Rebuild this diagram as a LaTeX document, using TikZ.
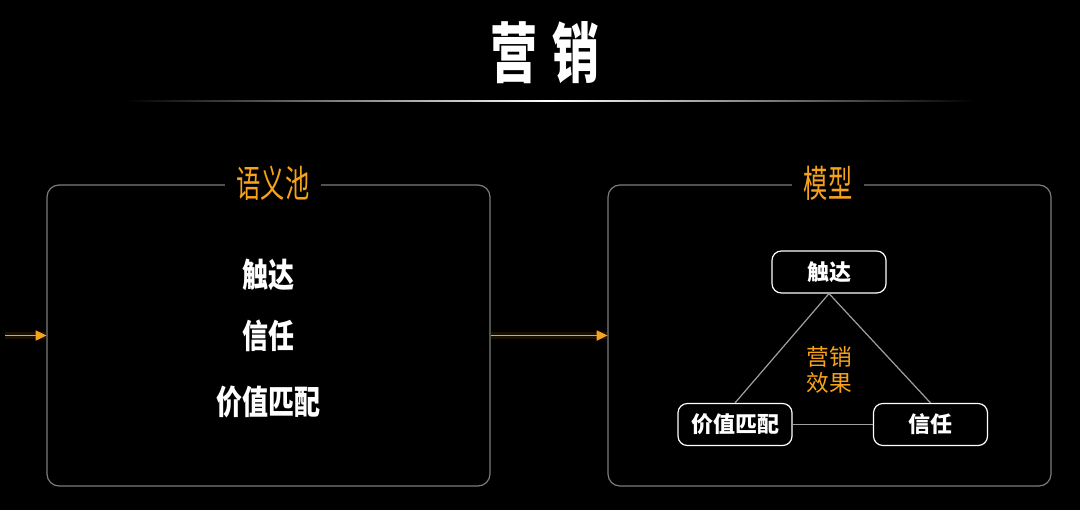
\documentclass[tikz,border=0pt]{standalone}
\usepackage{fontspec}
\newfontfamily\cjk{Noto Sans CJK SC}
\newfontfamily\cjktitle[FakeStretch=0.72]{Noto Sans CJK SC}
\newfontfamily\cjktag[FakeStretch=0.65]{Noto Sans CJK SC}
\newfontfamily\cjkitem[FakeStretch=0.78]{Noto Sans CJK SC}
\usetikzlibrary{arrows.meta}
\definecolor{mkorange}{HTML}{F7A21B}
\definecolor{mkgray}{HTML}{7C7C7C}
\definecolor{mklink}{HTML}{A0A0A0}

\begin{document}
\begin{tikzpicture}[x=0.75pt,y=-0.75pt,
  panel/.style={draw=mkgray, line width=0.9pt, rounded corners=9pt, minimum width=332.25pt, minimum height=225.75pt},
  tag/.style={fill=black, text=mkorange, font=\cjktag\fontsize{28}{30}\selectfont, inner xsep=9pt, inner ysep=0pt},
  item/.style={text=white, font=\cjkitem\bfseries\fontsize{25}{28}\selectfont},
  factor/.style={draw=white, line width=0.9pt, rounded corners=7pt, minimum width=85.5pt, minimum height=31.5pt, text=white, font=\cjk\bfseries\fontsize{16.5}{18}\selectfont},
  flow/.style={draw=mkorange, line width=1.3pt, -{Triangle[length=8pt,width=7.5pt]}},
  flowglow/.style={draw=mkorange, line width=5pt, opacity=0.1},
  link/.style={draw=mklink, line width=0.9pt}]

\fill[black] (0,0) rectangle (1080,510);

% title
\node[text=white, font=\cjktitle\bfseries\fontsize{49}{52}\selectfont] (title) at (545,53) {营\kern11pt销};
\shade[left color=black, right color=black, middle color=white] (125,100.3) rectangle (975,101.7);

% boxes
\node[panel] (pool) at (268.5,335.5) {};
\node[panel] (model) at (829.5,335.5) {};
\node[tag] (pooltag) at (273,183) {语义池};
\node[tag] (modeltag) at (828,183) {模型};

% arrows
\coordinate (in) at (5,335.5);
\draw[flowglow] (in) -- (pool.west);
\draw[flowglow] (pool.east) -- (model.west);
\draw[flow] (in) -- (pool.west);
\draw[flow] (pool.east) -- (model.west);

% semantic pool
\node[item] (ireach) at (268,275) {触达};
\node[item] (itrust) at (268,336) {信任};
\node[item] (ivalue) at (268,402) {价值匹配};

% model
\node[factor] (reach) at (829,272) {触达};
\node[factor] (value) at (735,424.5) {价值匹配};
\node[factor] (trust) at (930.5,424.5) {信任};
\draw[link] (reach.south) -- (value.north);
\draw[link] (reach.south) -- (trust.north);
\draw[link] (value.east) -- (trust.west);
\node[text=mkorange, font=\cjk\fontsize{17}{19}\selectfont, align=center] (effect) at (829,370) {营销\\效果};
\end{tikzpicture}
\end{document}
